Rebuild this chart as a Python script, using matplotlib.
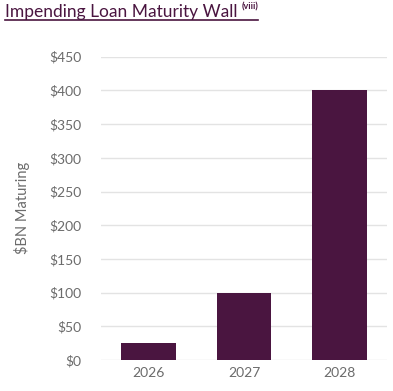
import matplotlib
matplotlib.use("Agg")
import matplotlib.pyplot as plt
from matplotlib.lines import Line2D
from matplotlib.ticker import FuncFormatter, MultipleLocator

years = ["2026", "2027", "2028"]
maturing = [25, 100, 400]

bar_color = "#4a1540"
title_color = "#4a1540"
tick_color = "#6b6b6b"
grid_color = "#e3e3e3"

plt.rcParams['font.family'] = ['Lato', 'DejaVu Sans']

fig = plt.figure(figsize=(3.93, 3.91), dpi=100)
ax = fig.add_axes([101 / 393, 1 - 360 / 391, 286 / 393, (360 - 56.7) / 391])

ax.bar(range(len(years)), maturing, width=0.57, color=bar_color, zorder=3)
ax.set_xlim(-0.5, 2.5)
ax.set_ylim(0, 450)
ax.yaxis.set_major_locator(MultipleLocator(50))
ax.yaxis.set_major_formatter(FuncFormatter(lambda v, p: "${:d}".format(int(v))))
ax.set_xticks(range(len(years)))
ax.set_xticklabels(years)

ax.grid(axis="y", color=grid_color, linewidth=1, zorder=0)
for s in ax.spines.values():
    s.set_visible(False)
ax.tick_params(axis="both", length=0, colors=tick_color, labelsize=10)
ax.tick_params(axis="y", pad=14)
ax.tick_params(axis="x", pad=5)
ax.set_ylabel("$BN Maturing", color=tick_color, fontsize=10.5, labelpad=14)

# title with underline and superscript note
title = fig.text(5 / 393, 1 - 16.5 / 391, "Impending Loan Maturity Wall",
                 color=title_color, fontsize=12.5, va="baseline", ha="left")
fig.canvas.draw()
bb = title.get_window_extent()
inv = fig.transFigure.inverted()
x1 = inv.transform((bb.x1, bb.y0))[0]
note = fig.text(x1 + 4 / 393, 1 - 7 / 391, "(viii)", color=title_color,
                fontsize=6.5, va="center", ha="left", fontweight="bold")
fig.canvas.draw()
note_right = inv.transform((note.get_window_extent().x1, 0))[0]
fig.add_artist(Line2D([5 / 393, note_right], [1 - 19.5 / 391, 1 - 19.5 / 391],
                      color=title_color, linewidth=1.2, transform=fig.transFigure))

fig.savefig("out.png", dpi=100)
